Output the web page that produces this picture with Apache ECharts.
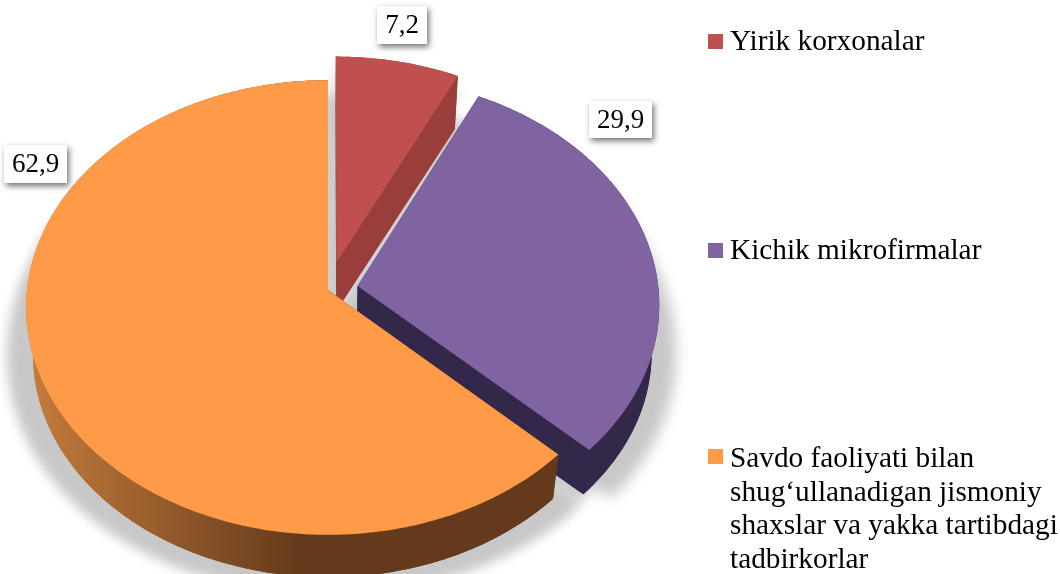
<!DOCTYPE html>
<html>
<head>
<meta charset="utf-8">
<style>
  html, body { margin: 0; background: #fff; }
  #chart { width: 1060px; height: 574px; }
</style>
<script src="https://cdn.jsdelivr.net/npm/echarts@6/dist/echarts.min.js"></script>
</head>
<body>
<div id="chart"></div>
<script>
// chart data
const sliceNames = ['Yirik korxonalar', 'Kichik mikrofirmalar', 'Savdo faoliyati bilan shug‘ullanadigan jismoniy shaxslar va yakka tartibdagi tadbirkorlar']
const sliceValues = [7.2, 29.9, 62.9]
const sliceLabels = ['7,2', '29,9', '62,9']
const legendLines = [['Yirik korxonalar'], ['Kichik mikrofirmalar'], ['Savdo faoliyati bilan', 'shug‘ullanadigan jismoniy', 'shaxslar va yakka tartibdagi', 'tadbirkorlar']]

// styling
const topColors = ['#C0504D', '#8064A2', '#FF9A49']
const sideColors = [
  '#9A3E3C',
  '#33274A',
  new echarts.graphic.LinearGradient(30, 0, 300, 0, [
    { offset: 0, color: '#C47C3C' },
    { offset: 1, color: '#643A1B' }
  ], true)
]
const fontFamily = '"Liberation Serif", "Times New Roman", serif'

// layout of the tilted disc
const cx = 328
const cy = 290
const rx = 301
const ry = 226
const tilt = 0.0769
const explode = [0.125, 0.1, 0]
const bottomScale = 0.977
const bottomDrop = 48
const shadowShift = 3000
const labelBoxes = [[377, 6, 50, 38], [589, 101, 63, 37], [4, 145, 63, 38]]
const legendTops = [34, 243, 449]

const total = sliceValues.reduce((a, b) => a + b, 0)

// 圆盘坐标投影到屏幕，带一点透视
const project = (angle, r, ex, mid, scale, drop) => {
  const u = r * Math.sin(angle) + ex * Math.sin(mid)
  const v = -r * Math.cos(angle) - ex * Math.cos(mid)
  const w = 1 - tilt * v
  return [cx + scale * rx * u / w, cy + drop + scale * ry * v / w]
}

const sliceAngles = (index) => {
  let start = 0
  for (let i = 0; i < index; i++) start += sliceValues[i]
  const a0 = start / total * Math.PI * 2
  const a1 = (start + sliceValues[index]) / total * Math.PI * 2
  return [a0, a1, (a0 + a1) / 2]
}

const arcPoints = (index, scale, drop, ex = explode[index]) => {
  const [a0, a1, mid] = sliceAngles(index)
  const steps = Math.ceil((a1 - a0) / 0.01)
  const pts = []
  for (let i = 0; i <= steps; i++) {
    pts.push(project(a0 + (a1 - a0) * i / steps, 1, ex, mid, scale, drop))
  }
  return pts
}

const apexPoint = (index, scale, drop, ex = explode[index]) => {
  const mid = sliceAngles(index)[2]
  return project(0, 0, ex, mid, scale, drop)
}

// 投影阴影：越往下越宽，形状本身移到画布外只留模糊
const castShadow = (p) => {
  const t = (p[1] - 80) / 455
  return [cx + (p[0] - cx) * (1 + 0.1 * t) - shadowShift, p[1] + 16 + 40 * t]
}

const renderShadow = (params) => {
  const i = params.dataIndex
  // 未分离和分离后的位置都画，扇区之间的缝也是灰的
  const children = [0, explode[i]].map((ex) => ({
    type: 'polygon',
    shape: { points: [apexPoint(i, 1, 0, ex), ...arcPoints(i, 1, 0, ex)].map(castShadow) },
    style: { fill: '#000', shadowBlur: 14, shadowOffsetX: shadowShift, shadowColor: 'rgb(200,200,200)' }
  }))
  return { type: 'group', children }
}

const renderSlice = (params) => {
  const i = params.dataIndex
  const topArc = arcPoints(i, 1, 0)
  const lowArc = arcPoints(i, bottomScale, bottomDrop)
  const topApex = apexPoint(i, 1, 0)
  const lowApex = apexPoint(i, bottomScale, bottomDrop)
  const side = sideColors[i]
  const n = topArc.length - 1
  const faces = [
    [lowApex, ...lowArc],
    [...topArc, ...lowArc.slice().reverse()],
    [topApex, topArc[0], lowArc[0], lowApex],
    [topApex, topArc[n], lowArc[n], lowApex]
  ]
  const children = faces.map((points) => ({
    type: 'polygon',
    shape: { points },
    style: { fill: side }
  }))
  children.push({
    type: 'polygon',
    shape: { points: [topApex, ...topArc] },
    style: { fill: topColors[i] }
  })
  const box = labelBoxes[i]
  children.push({
    type: 'rect',
    shape: { x: box[0], y: box[1], width: box[2], height: box[3] },
    style: { fill: '#fff', shadowBlur: 6, shadowOffsetX: 2, shadowOffsetY: 3, shadowColor: 'rgba(0,0,0,0.55)' }
  })
  children.push({
    type: 'text',
    style: {
      text: sliceLabels[i],
      x: box[0] + box[2] / 2,
      y: box[1] + box[3] / 2 + 1,
      align: 'center',
      verticalAlign: 'middle',
      font: '27px ' + fontFamily,
      fill: '#000'
    }
  })
  return { type: 'group', children }
}

// 图例
const legendGraphics = []
legendLines.forEach((lines, i) => {
  legendGraphics.push({
    type: 'rect',
    left: 708,
    top: legendTops[i],
    shape: { width: 15, height: 15 },
    style: { fill: topColors[i] }
  })
  lines.forEach((line, j) => {
    legendGraphics.push({
      type: 'text',
      left: 730,
      top: legendTops[i] - 6 + (i === 2 ? 2 : 0) + j * 33.6,
      style: { text: line, font: '29.3px ' + fontFamily, fill: '#000' }
    })
  })
})

const chart = echarts.init(document.getElementById('chart'))
chart.setOption({
  animation: false,
  backgroundColor: '#fff',
  graphic: legendGraphics,
  series: [
    {
      type: 'custom',
      coordinateSystem: 'none',
      renderItem: renderShadow,
      silent: true,
      z: 1,
      data: sliceValues.map((value, i) => ({ name: sliceNames[i], value }))
    },
    {
      type: 'custom',
      coordinateSystem: 'none',
      renderItem: renderSlice,
      z: 2,
      data: sliceValues.map((value, i) => ({ name: sliceNames[i], value }))
    }
  ]
})
</script>
</body>
</html>
